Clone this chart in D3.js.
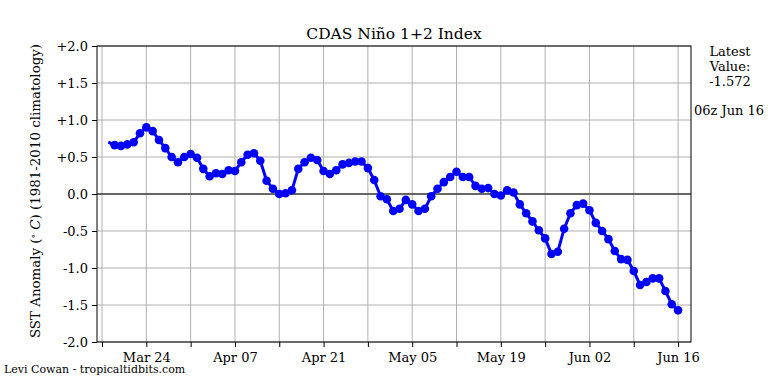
<!DOCTYPE html>
<html><head><meta charset="utf-8">
<script src="https://cdn.jsdelivr.net/npm/d3@7"></script>
<style>body{margin:0;background:#fff}svg{display:block}text{font-family:"DejaVu Serif",serif;fill:#000}</style>
</head><body>
<svg id="c" width="768" height="384"></svg>
<script>
const startDate = "2024-03-18";
const values = [0.70,0.66,0.65,0.67,0.70,0.82,0.90,0.85,0.73,0.62,
0.50,0.43,0.50,0.54,0.49,0.34,0.24,0.28,0.27,0.32,
0.31,0.43,0.53,0.55,0.45,0.18,0.07,0.00,0.01,0.05,
0.34,0.43,0.49,0.46,0.31,0.27,0.32,0.40,0.42,0.44,
0.44,0.35,0.19,-0.03,-0.07,-0.23,-0.20,-0.08,-0.14,-0.23,
-0.20,-0.03,0.07,0.16,0.23,0.30,0.23,0.23,0.11,0.07,
0.08,0.00,-0.02,0.05,0.02,-0.14,-0.26,-0.37,-0.49,-0.60,
-0.81,-0.78,-0.47,-0.26,-0.15,-0.13,-0.22,-0.39,-0.50,-0.61,
-0.77,-0.88,-0.89,-1.04,-1.23,-1.19,-1.14,-1.14,-1.31,-1.49,-1.572];
const yTicks = [2,1.5,1,0.5,0,-0.5,-1,-1.5,-2];
const yTickLabels = ["+2.0","+1.5","+1.0","+0.5","0.0","-0.5","-1.0","-1.5","-2.0"];
const xTickDates = ["2024-03-17","2024-03-24","2024-03-31","2024-04-07","2024-04-14","2024-04-21","2024-04-28","2024-05-05","2024-05-12","2024-05-19","2024-05-26","2024-06-02","2024-06-09","2024-06-16"];
const xTickLabels = ["","Mar 24","","Apr 07","","Apr 21","","May 05","","May 19","","Jun 02","","Jun 16"];
const title = "CDAS Niño 1+2 Index";
const latestText = ["Latest","Value:","-1.572"];
const latestTime = "06z Jun 16";
const credit = "Levi Cowan - tropicaltidbits.com";

const parse = d3.utcParse("%Y-%m-%d");
const t0 = parse(startDate);
const data = values.map((v,i)=>({d:d3.utcDay.offset(t0,i),v}));
const xt = xTickDates.map(parse);

const L=97,R=691,T=46,B=342;
const svg=d3.select("#c");
const pxPerDay=(678-102)/91;
const x=d3.scaleUtc().domain([d3.utcHour.offset(xt[0],-Math.round((102-L)/pxPerDay*24)), d3.utcHour.offset(xt[13],Math.round((R-678)/pxPerDay*24))]).range([L,R]);
const y=d3.scaleLinear().domain([-2,2]).range([B,T]);

// grid
const g=svg.append("g");
g.selectAll(".vg").data(xt).join("line").attr("x1",d=>x(d)).attr("x2",d=>x(d)).attr("y1",T).attr("y2",B).attr("stroke","#b0b0b0").attr("stroke-width",1);
g.selectAll(".hg").data(yTicks).join("line").attr("x1",L).attr("x2",R).attr("y1",d=>y(d)).attr("y2",d=>y(d)).attr("stroke","#b0b0b0").attr("stroke-width",1);
svg.append("line").attr("x1",L).attr("x2",R).attr("y1",y(0)).attr("y2",y(0)).attr("stroke","#404040").attr("stroke-width",1.5);

// axes
const xAxis=d3.axisBottom(x).tickValues(xt).tickFormat((d,i)=>xTickLabels[i]).tickSize(5).tickPadding(3);
const ax=svg.append("g").attr("transform",`translate(0,${B})`).call(xAxis);
ax.select(".domain").remove();
ax.selectAll("text").attr("font-size",13).attr("font-family","DejaVu Serif").attr("dy","0.9em");
ax.selectAll("line").attr("stroke","#000");
const yAxis=d3.axisLeft(y).tickValues(yTicks).tickFormat((d,i)=>yTickLabels[i]).tickSize(5).tickPadding(4);
const ay=svg.append("g").attr("transform",`translate(${L},0)`).call(yAxis);
ay.select(".domain").remove();
ay.selectAll("text").attr("font-size",13).attr("font-family","DejaVu Serif");
ay.selectAll("line").attr("stroke","#000");
svg.append("rect").attr("x",L).attr("y",T).attr("width",R-L).attr("height",B-T).attr("fill","none").attr("stroke","#000").attr("stroke-width",1);

// line
svg.append("path").datum(data).attr("d",d3.line().x(d=>x(d.d)).y(d=>y(d.v))).attr("fill","none").attr("stroke","#0000ff").attr("stroke-width",3).attr("stroke-linejoin","round");
svg.selectAll(".pt").data(data.slice(1)).join("circle").attr("cx",d=>x(d.d)).attr("cy",d=>y(d.v)).attr("r",4.3).attr("fill","#0000ff");

// texts
svg.append("text").attr("x",(L+R)/2).attr("y",39).attr("text-anchor","middle").attr("font-size",15.5).text(title);
const yl=svg.append("text").attr("transform",`translate(40,${(T+B)/2-3}) rotate(-90)`).attr("text-anchor","middle").attr("font-size",13.4);
yl.append("tspan").text("SST Anomaly (");
yl.append("tspan").attr("font-size",9).attr("dy",-4).text("∘");
yl.append("tspan").attr("dy",4).attr("font-style","italic").text(" C");
yl.append("tspan").text(") (1981-2010 climatology)");
latestText.forEach((s,i)=>svg.append("text").attr("x",730).attr("y",56+i*15).attr("text-anchor","middle").attr("font-size",13).text(s));
svg.append("text").attr("x",729).attr("y",115).attr("text-anchor","middle").attr("font-size",13).text(latestTime);
svg.append("text").attr("x",4).attr("y",373).attr("font-size",11).text(credit);
</script>
</body></html>
